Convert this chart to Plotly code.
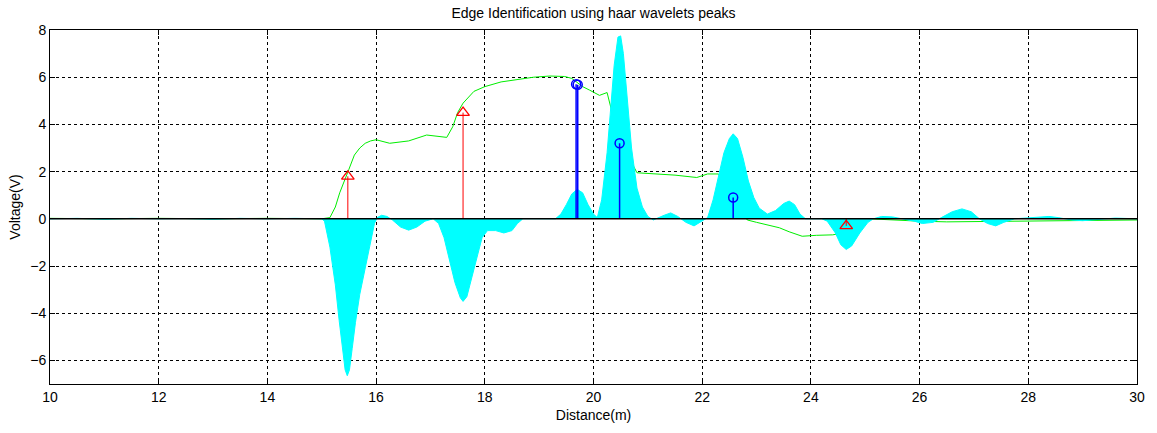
import plotly.graph_objects as go

# Envelope of the haar wavelet coefficient family (distance in m, voltage in V)
coef_x = [10.0, 10.5, 11.0, 11.5, 12.0, 12.5, 13.0, 13.5, 14.0, 14.5, 15.0,
          15.05, 15.15, 15.25, 15.32, 15.38, 15.43, 15.47, 15.51, 15.56, 15.62,
          15.7, 15.8, 15.9, 15.97, 16.02, 16.1, 16.2, 16.3, 16.45, 16.6, 16.75,
          16.9, 17.05, 17.15, 17.25, 17.35, 17.45, 17.55, 17.6, 17.67, 17.75,
          17.85, 17.95, 18.05, 18.2, 18.35, 18.5, 18.6, 18.7, 19.3, 19.4, 19.5,
          19.6, 19.7, 19.8, 19.9, 20.0, 20.07, 20.15, 20.25, 20.32, 20.38, 20.45,
          20.5, 20.55, 20.62, 20.7, 20.8, 20.9, 21.0, 21.1, 21.3, 21.42, 21.55,
          21.7, 21.85, 22.0, 22.1, 22.2, 22.3, 22.4, 22.5, 22.57, 22.65, 22.75,
          22.85, 22.95, 23.05, 23.2, 23.35, 23.5, 23.6, 23.7, 23.8, 23.9, 24.2,
          24.3, 24.45, 24.55, 24.65, 24.75, 24.9, 25.05, 25.15, 25.3, 25.5, 25.7,
          25.9, 26.05, 26.25, 26.4, 26.6, 26.78, 26.95, 27.1, 27.25, 27.4, 27.55,
          27.75, 28.0, 28.2, 28.38, 28.55, 28.8, 29.0, 29.3, 29.6, 30.0]
coef_y = [0.0, 0.02, -0.02, 0.02, 0.0, 0.01, -0.02, 0.02, 0.0, 0.02, 0.0,
          -0.1, -1.2, -2.8, -4.3, -5.6, -6.4, -6.65, -6.4, -5.5, -4.4,
          -3.2, -2.1, -1.0, -0.2, 0.05, 0.15, 0.1, -0.05, -0.35, -0.48, -0.35,
          -0.1, 0.0, -0.2, -0.8, -1.7, -2.7, -3.35, -3.5, -3.3, -2.6,
          -1.6, -0.8, -0.5, -0.5, -0.6, -0.5, -0.2, 0.0, 0.0, 0.2, 0.6,
          1.05, 1.25, 1.1, 0.6, 0.2, 0.05, 0.8, 2.8, 4.8, 6.5, 7.7,
          7.75, 7.0, 5.0, 3.0, 1.3, 0.5, 0.1, -0.05, 0.15, 0.25, 0.1,
          -0.15, -0.3, -0.1, 0.05, 0.8, 1.8, 2.8, 3.4, 3.6, 3.4, 2.6,
          1.6, 0.9, 0.45, 0.2, 0.35, 0.65, 0.75, 0.6, 0.2, 0.0, 0.0,
          -0.1, -0.6, -1.1, -1.3, -1.15, -0.6, -0.15, 0.0, 0.1, 0.08, 0.0,
          -0.1, -0.2, -0.15, 0.05, 0.3, 0.42, 0.3, 0.0, -0.2, -0.3, -0.15,
          0.0, 0.05, 0.08, 0.1, 0.05, -0.05, -0.08, -0.02, 0.03, 0.0]

# Measured voltage trace
sig_x = [10.0, 11.0, 12.0, 13.0, 14.0, 15.0, 15.15, 15.25, 15.33, 15.42, 15.5,
         15.6, 15.7, 15.8, 15.9, 16.0, 16.25, 16.6, 16.93, 17.3, 17.41, 17.5,
         17.6, 17.8, 18.0, 18.3, 18.6, 18.9, 19.2, 19.47, 19.6, 19.8, 19.93,
         20.11, 20.25, 20.45, 20.8, 21.2, 21.5, 21.9, 22.1, 22.3, 22.55, 22.83,
         23.0, 23.2, 23.42, 23.6, 23.84, 24.1, 24.4, 24.6, 24.85, 25.07, 25.5,
         26.0, 26.5, 27.0, 27.5, 28.0, 28.5, 29.0, 29.5, 30.0]
sig_y = [0.02, 0.0, 0.02, 0.0, 0.02, 0.0, 0.05, 0.5, 1.1, 1.6, 2.1,
         2.7, 3.0, 3.2, 3.3, 3.35, 3.2, 3.3, 3.55, 3.45, 3.9, 4.5,
         4.9, 5.4, 5.6, 5.8, 5.9, 6.0, 6.05, 6.03, 5.95, 5.6, 5.45,
         5.23, 5.35, 3.5, 1.95, 1.9, 1.85, 1.75, 1.9, 1.9, 1.0, -0.05,
         -0.15, -0.25, -0.38, -0.55, -0.74, -0.7, -0.68, -0.6, -0.3, 0.0, -0.05,
         -0.1, -0.13, -0.12, -0.1, -0.1, -0.08, -0.1, -0.08, -0.05]

# Detected edges: transitions (red) and wavelet peaks (blue)
edge_x = [15.48, 17.6, 24.65]
edge_y = [1.8, 4.5, -0.3]
peak_x = [19.68, 19.71, 20.48, 22.57]
peak_y = [5.7, 5.68, 3.2, 0.9]


def stem_path(xs, ys):
    px, py = [], []
    for x, y in zip(xs, ys):
        px += [x, x, None]
        py += [0, y, None]
    return px, py


fig = go.Figure()

fig.add_trace(go.Scatter(x=sig_x, y=sig_y, mode="lines",
                         line=dict(color="#00ee00", width=1)))
fig.add_trace(go.Scatter(x=coef_x, y=coef_y, mode="lines", fill="tozeroy",
                         fillcolor="#00ffff", line=dict(color="#00ffff", width=1)))

ex, ey = stem_path(edge_x, edge_y)
fig.add_trace(go.Scatter(x=ex, y=ey, mode="lines",
                         line=dict(color="#ff0000", width=1)))
fig.add_trace(go.Scatter(x=edge_x, y=edge_y, mode="markers",
                         marker=dict(symbol="triangle-up-open", size=11,
                                     color="#ff0000", line=dict(width=1.3, color="#ff0000"))))

bx, by = stem_path(peak_x, peak_y)
fig.add_trace(go.Scatter(x=bx, y=by, mode="lines",
                         line=dict(color="#0000ff", width=1.5)))
fig.add_trace(go.Scatter(x=peak_x, y=peak_y, mode="markers",
                         marker=dict(symbol="circle-open", size=9,
                                     color="#0000ff", line=dict(width=1.5, color="#0000ff"))))

# stem baseline
fig.add_hline(y=0, line=dict(color="black", width=1.5), layer="above")

FONT = "Liberation Sans, Arial"
axis_common = dict(
    showline=True, linecolor="black", linewidth=1, mirror="ticks",
    ticks="inside", ticklen=5, tickcolor="black",
    showgrid=True, gridcolor="black", gridwidth=1, griddash="3px,3px",
    zeroline=False, tickfont=dict(family=FONT, size=14, color="black"),
)

fig.update_layout(
    width=1157, height=433,
    margin=dict(l=50, r=19, t=30, b=47),
    paper_bgcolor="white", plot_bgcolor="white",
    showlegend=False,
    font=dict(family=FONT, size=14, color="black"),
    title=dict(text="Edge Identification using haar wavelets peaks",
               x=0.5, xref="paper", xanchor="center",
               y=1 - 13 / 433, yref="container", yanchor="middle",
               font=dict(size=14)),
    xaxis=dict(range=[10, 30], dtick=2,
               title=dict(text="Distance(m)", standoff=6, font=dict(size=14)),
               **axis_common),
    yaxis=dict(range=[-7, 8], tickvals=[-6, -4, -2, 0, 2, 4, 6, 8],
               title=dict(text="Voltage(V)", standoff=6, font=dict(size=14)),
               **axis_common),
)

fig.write_html("out.html")
